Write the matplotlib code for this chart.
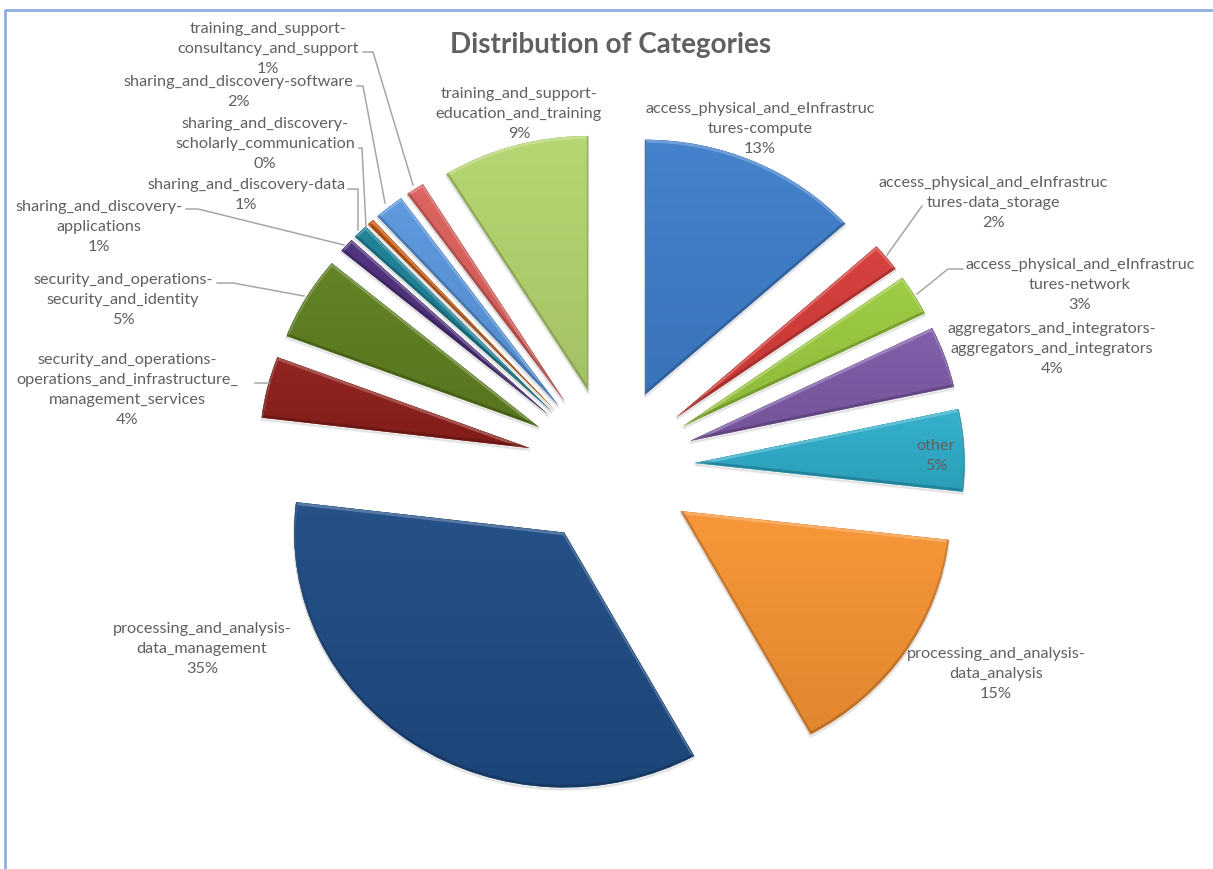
import numpy as np
import matplotlib
matplotlib.use("Agg")
import matplotlib.pyplot as plt
from matplotlib.colors import LinearSegmentedColormap, to_rgb
from matplotlib.patches import PathPatch
from matplotlib.transforms import Affine2D

plt.rcParams['font.family'] = ['Lato', 'DejaVu Sans']

# Category names, wrapped the way they appear next to the slices
categories = [
    "access_physical_and_eInfrastruc\ntures-compute",
    "access_physical_and_eInfrastruc\ntures-data_storage",
    "access_physical_and_eInfrastruc\ntures-network",
    "aggregators_and_integrators-\naggregators_and_integrators",
    "other",
    "processing_and_analysis-\ndata_analysis",
    "processing_and_analysis-\ndata_management",
    "security_and_operations-\noperations_and_infrastructure_\nmanagement_services",
    "security_and_operations-\nsecurity_and_identity",
    "sharing_and_discovery-\napplications",
    "sharing_and_discovery-data",
    "sharing_and_discovery-\nscholarly_communication",
    "sharing_and_discovery-software",
    "training_and_support-\nconsultancy_and_support",
    "training_and_support-\neducation_and_training",
]
shares = [13.3, 1.8, 2.6, 3.9, 5.2, 15.2, 34.9, 3.9, 5.3, 0.9, 0.9, 0.4, 1.8, 1.1, 8.8]
colors = ["#3F7FCC", "#D63C39", "#9CCB3F", "#7F5BA8", "#2FAECB", "#F79433", "#1F4C85",
          "#8E1F1B", "#5F8020", "#4C2E7A", "#1B8096", "#C9590F", "#5A97DE", "#DB605C", "#B4D56E"]

# Label centres in figure pixels, y of the first line
label_x = [760, 993, 1080, 1052, 936, 996, 202, 127, 123, 99, 246, 265, 238, 268, 519]
label_y = [109, 183, 265, 329, 446, 654, 629, 360, 280, 207, 185, 124, 82, 29, 94]

# Leader lines in figure pixels
leaders = [
    [(922, 206), (887, 255)],
    [(963, 269), (948, 269), (917, 294)],
    [(255, 383), (269, 383)],
    [(217, 283), (233, 283), (304, 296)],
    [(186, 209), (198, 209), (344, 245)],
    [(348, 189), (358, 189), (358, 230)],
    [(359, 148), (362, 148), (366, 227)],
    [(357, 86), (363, 86), (385, 203)],
    [(363, 52), (373, 52), (413, 185)],
]

W, H = 1213, 869
CX, CY = 611, 467   # pie centre
RX, RY = 270, 255   # the pie is slightly wider than tall
TEXT_COLOR = "#606060"

fig = plt.figure(figsize=(W / 100, H / 100), dpi=100, facecolor="white")

ax = fig.add_axes([0, 0, 1, 1])
wedges, _ = ax.pie(shares, startangle=90, counterclock=False, explode=[0.31] * len(shares),
                   colors=colors, wedgeprops={"linewidth": 0})
ax.set_aspect("auto")
xlim = (-CX / RX, (W - CX) / RX)
ylim = ((CY - H) / RY, CY / RY)
dy = 1 / RY


def shaded(color, amount):
    # amount > 0 goes towards white, amount < 0 towards black
    rgb = np.array(to_rgb(color))
    return tuple(rgb + (1 - rgb) * amount) if amount > 0 else tuple(rgb * (1 + amount))


for wedge, color in zip(wedges, colors):
    path = wedge.get_path().transformed(wedge.get_patch_transform())
    box = path.get_extents()
    # vertical fill, a little darker towards the bottom
    cmap = LinearSegmentedColormap.from_list("fill", [shaded(color, 0.03), shaded(color, -0.09)])
    im = ax.imshow(np.linspace(0, 1, 128).reshape(-1, 1), cmap=cmap, aspect="auto",
                   extent=(box.x0, box.x1, box.y0, box.y1), origin="upper", zorder=2)
    im.set_clip_path(wedge)

    # soft shadow below the slice
    for off, alpha in [(2.5, 0.05), (1.5, 0.08)]:
        ax.add_patch(PathPatch(path.transformed(Affine2D().translate(0, -off * dy)),
                               facecolor="none", edgecolor="black", linewidth=1.5,
                               alpha=alpha, zorder=1))

    # bevel: light on edges facing up, dark on edges facing down
    light = PathPatch(path.transformed(Affine2D().translate(0, -1.5 * dy)), facecolor="none",
                      edgecolor=shaded(color, 0.4), linewidth=2, alpha=0.6, zorder=3)
    dark = PathPatch(path.transformed(Affine2D().translate(0, 1.5 * dy)), facecolor="none",
                     edgecolor=shaded(color, -0.4), linewidth=2, alpha=0.5, zorder=3)
    for bevel in (light, dark):
        ax.add_patch(bevel)
        bevel.set_clip_path(wedge)

ax.set_xlim(xlim)
ax.set_ylim(ylim)
ax.axis("off")

# Overlay in pixel coordinates for title, labels, leader lines and frame
overlay = fig.add_axes([0, 0, 1, 1], facecolor="none")
overlay.set_xlim(0, W)
overlay.set_ylim(H, 0)
overlay.axis("off")

overlay.text(611, 45, "Distribution of Categories", ha="center", va="center",
             fontsize=20, fontweight="bold", color=TEXT_COLOR)

for name, share, x, y in zip(categories, shares, label_x, label_y):
    lines = name.split("\n") + [f"{share:.0f}%"]
    for i, line in enumerate(lines):
        overlay.text(x, y + i * 20, line, ha="center", va="center", fontsize=11.7, color=TEXT_COLOR)

for points in leaders:
    xs, ys = zip(*points)
    overlay.plot(xs, ys, color="#A6A6A6", linewidth=1.1)

# Frame only shows on the top and left
overlay.plot([5, 5, W], [H, 10, 10], color="#92ADE0", linewidth=2)

fig.savefig("out.png", dpi=100)
